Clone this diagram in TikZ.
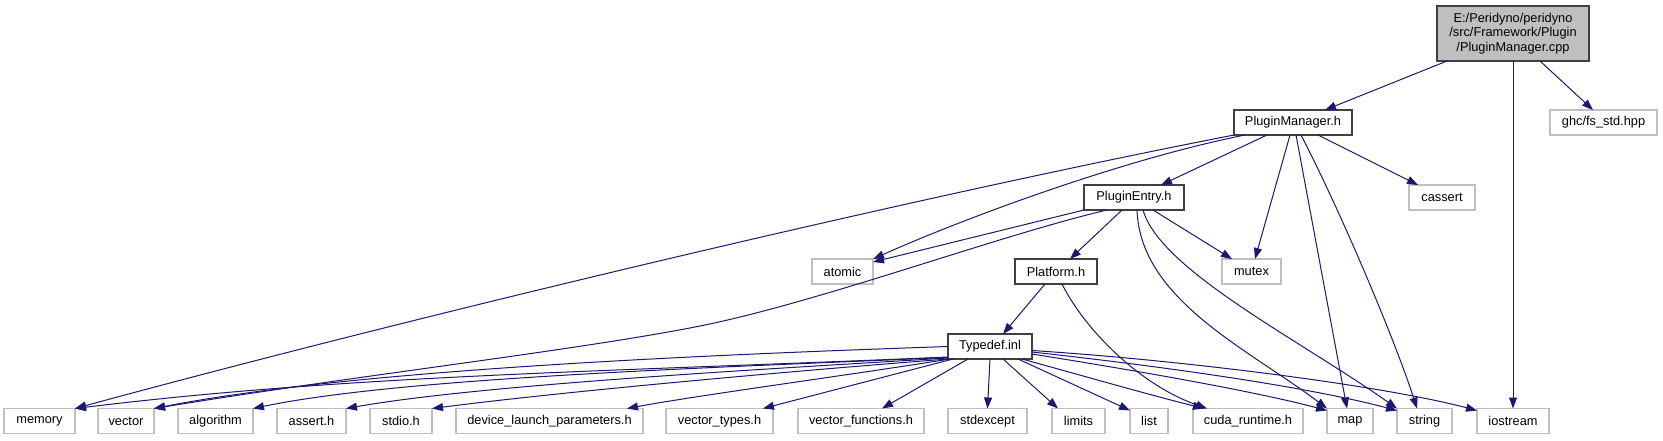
\documentclass[tikz,border=0pt]{standalone}
\usepackage{fontspec}
\setmainfont{Liberation Sans}
\usetikzlibrary{arrows.meta,calc}
\definecolor{edgeblue}{HTML}{191970}
\definecolor{sysgrey}{HTML}{BFBFBF}
\definecolor{docgrey}{HTML}{404040}
\definecolor{rootfill}{HTML}{BFBFBF}
\newcommand\dgfont{\fontsize{12.8}{14.8}\selectfont}
\tikzset{
  basebox/.style={inner sep=0pt, outer sep=0pt, minimum height=25pt, font=\dgfont, fill=white},
  sysbox/.style={basebox, draw=sysgrey, line width=1.1pt},
  docbox/.style={basebox, draw=docgrey, line width=1.5pt},
  rootbox/.style={docbox, fill=rootfill, align=center},
  edge/.style={draw=edgeblue, line width=1pt, -{Triangle[length=11pt,width=8pt]}},
}
\begin{document}
\begin{tikzpicture}[x=1pt,y=-1pt]
\useasboundingbox (0,0) rectangle (1663,440);
% nodes
\node[rootbox, minimum width=152pt, minimum height=55pt] (root) at (1513,33.5) {E:/Peridyno/peridyno\\/src/Framework/Plugin\\/PluginManager.cpp};
\node[docbox, minimum width=118pt] (pm) at (1293,122.5) {PluginManager.h};
\node[sysbox, minimum width=107pt] (ghc) at (1603.5,122.5) {ghc/fs\_std.hpp};
\node[docbox, minimum width=100pt] (pe) at (1134,197.5) {PluginEntry.h};
\node[sysbox, minimum width=66pt] (cassert) at (1442,197.5) {cassert};
\node[sysbox, minimum width=61pt] (atomic) at (842.5,271.5) {atomic};
\node[docbox, minimum width=82pt] (platform) at (1056,271.5) {Platform.h};
\node[sysbox, minimum width=59pt] (mutex) at (1251.5,271.5) {mutex};
\node[docbox, minimum width=84pt] (typedef) at (990,346.5) {Typedef.inl};
\node[sysbox, minimum width=71pt] (memory) at (39.5,421) {memory};
\node[sysbox, minimum width=56pt] (vector) at (126,421) {vector};
\node[sysbox, minimum width=75pt] (algorithm) at (215.5,421) {algorithm};
\node[sysbox, minimum width=69pt] (asserth) at (311.5,421) {assert.h};
\node[sysbox, minimum width=62pt] (stdioh) at (401,421) {stdio.h};
\node[sysbox, minimum width=187pt] (device) at (549.5,421) {device\_launch\_parameters.h};
\node[sysbox, minimum width=107pt] (vtypes) at (719.5,421) {vector\_types.h};
\node[sysbox, minimum width=126pt] (vfunc) at (861,421) {vector\_functions.h};
\node[sysbox, minimum width=79pt] (stdexcept) at (987.5,421) {stdexcept};
\node[sysbox, minimum width=53pt] (limits) at (1078.5,421) {limits};
\node[sysbox, minimum width=38pt] (list) at (1149,421) {list};
\node[sysbox, minimum width=110pt] (cuda) at (1248,421) {cuda\_runtime.h};
\node[sysbox, minimum width=46pt] (map) at (1350,421) {map};
\node[sysbox, minimum width=55pt] (string) at (1424.5,421) {string};
\node[sysbox, minimum width=72pt] (iostream) at (1513,421) {iostream};
% root edges
\draw[edge] ($(root.south west)+(10,0)$) -- ($(pm.north east)+(-27,0)$);
\draw[edge] (root.south) -- (iostream.north);
\draw[edge] ($(root.south east)+(-49,0)$) -- ($(ghc.north west)+(43,0)$);
% PluginManager.h edges
\draw[edge] ($(pm.south west)+(33,0)$) -- ($(pe.north east)+(-23,0)$);
\draw[edge] ($(pm.south west)+(56,0)$) -- ($(mutex.north west)+(33,0)$);
\draw[edge] ($(pm.south west)+(62,0)$) -- ($(map.north west)+(20,0)$);
\draw[edge] ($(pm.south west)+(67,0)$) .. controls (1340,210) and (1395,340) .. ($(string.north west)+(20,0)$);
\draw[edge] ($(pm.south east)+(-34,0)$) -- ($(cassert.north west)+(9,0)$);
\draw[edge] (pm.south west) .. controls (900,200) and (400,320) .. (memory.north east);
\draw[edge] ($(pm.south west)+(11,0)$) .. controls (1120,160) and (960,220) .. (atomic.north east);
% PluginEntry.h edges
\draw[edge] (pe.south west) -- ($(atomic.north east)+(0,3)$);
\draw[edge] ($(pe.south west)+(23,0)$) .. controls (1000,235) and (820,302) .. (700,326) .. controls (580,350) and (353,376) .. (vector.north east);
\draw[edge] ($(pe.south west)+(38,0)$) -- ($(platform.north east)+(-27,0)$);
\draw[edge] ($(pe.south east)+(-31,0)$) -- ($(mutex.north west)+(10,0)$);
\draw[edge] ($(pe.south west)+(53,0)$) .. controls (1140,300) and (1250,350) .. (map.north west);
\draw[edge] ($(pe.south west)+(59,0)$) .. controls (1160,270) and (1300,340) .. (string.north west);
% Platform.h edges
\draw[edge] ($(platform.south west)+(30,0)$) -- ($(typedef.north west)+(55,0)$);
\draw[edge] ($(platform.south west)+(47,0)$) .. controls (1085,330) and (1140,385) .. ($(cuda.north west)+(14,0)$);
% Typedef.inl edges, right side
\draw[edge] (typedef.south) -- (stdexcept.north);
\draw[edge] ($(typedef.south)+(13,0)$) -- ($(limits.north west)+(6,0)$);
\draw[edge] ($(typedef.south)+(28,0)$) -- ($(list.north west)+(0,2)$);
\draw[edge] ($(typedef.south east)+(-10,0)$) .. controls (1080,375) and (1150,395) .. ($(cuda.north west)+(11,0)$);
\draw[edge] ($(typedef.east)+(0,7.5)$) .. controls (1120,368) and (1250,390) .. ($(map.north west)+(0,2)$);
\draw[edge] ($(typedef.east)+(0,5.5)$) .. controls (1150,365) and (1300,385) .. ($(string.north west)+(0,2)$);
\draw[edge] ($(typedef.east)+(0,4)$) .. controls (1180,360) and (1380,385) .. ($(iostream.north west)+(0,2)$);
% Typedef.inl edges, left side
\draw[edge] (typedef.west) .. controls (700,355) and (350,370) .. (vector.north east);
\draw[edge] ($(typedef.south west)+(0,-2)$) .. controls (600,372) and (350,375) .. (memory.north east);
\draw[edge] ($(typedef.south west)+(0,-1.5)$) .. controls (700,368) and (400,378) .. (algorithm.north east);
\draw[edge] ($(typedef.south west)+(0,-1)$) .. controls (750,370) and (480,385) .. (asserth.north east);
\draw[edge] (typedef.south west) .. controls (780,372) and (560,392) .. (stdioh.north east);
\draw[edge] ($(typedef.south west)+(2,0)$) .. controls (850,375) and (700,395) .. ($(device.north east)+(-16,0)$);
\draw[edge] ($(typedef.south west)+(5,0)$) -- ($(vtypes.north east)+(-10,0)$);
\draw[edge] ($(typedef.south west)+(20,0)$) -- ($(vfunc.north east)+(-42,0)$);
\end{tikzpicture}
\end{document}
